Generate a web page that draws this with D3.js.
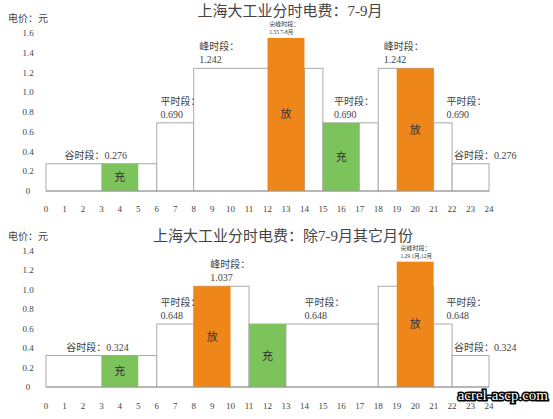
<!DOCTYPE html><html><head><meta charset="utf-8"><script src="https://cdn.jsdelivr.net/npm/d3@7"></script>
<style>body{margin:0;background:#fff}text{font-family:"Liberation Serif","Noto Sans CJK SC",serif}</style></head><body><svg id="c" width="553" height="419"></svg>
<script>
const hours=d3.range(0,25);
// chart 1: 7-9月
const base1=[[0,6,0.276],[6,8,0.690],[8,14,1.242],[14,15,1.242],[15,18,0.690],[18,21,1.242],[21,22,0.690],[22,24,0.276]];
const over1=[[3,5,0.276,"充","#7dc35b"],[12,14,1.55,"放","#ef861a"],[15,17,0.690,"充","#7dc35b"],[19,21,1.242,"放","#ef861a"]];
const lab1=[[1,0.276,"谷时段：0.276",1],[6.2,0.690,"平时段：|0.690",2],[8.3,1.242,"峰时段：|1.242",2],[15.6,0.690,"平时段：|0.690",2],[18.3,1.242,"峰时段：|1.242",2],[21.7,0.690,"平时段：|0.690",2],[22.1,0.276,"谷时段：0.276",1]];
const ticks1=[0,0.2,0.4,0.6,0.8,1.0,1.2,1.4,1.6];
// chart 2: 其它月份
const base2=[[0,6,0.324],[6,8,0.648],[8,11,1.037],[11,13,0.648],[13,18,0.648],[18,21,1.037],[21,22,0.648],[22,24,0.324]];
const over2=[[3,5,0.324,"充","#7dc35b"],[8,10,1.037,"放","#ef861a"],[11,13,0.648,"充","#7dc35b"],[19,21,1.29,"放","#ef861a"]];
const lab2=[[1.1,0.324,"谷时段：0.324",1],[6.2,0.648,"平时段：|0.648",2],[8.9,1.037,"峰时段：|1.037",2],[14,0.648,"平时段：|0.648",2],[21.7,0.648,"平时段：|0.648",2],[22.1,0.324,"谷时段：0.324",1]];
const ticks2=[0,0.2,0.4,0.6,0.8,1.0,1.2,1.4];
const svg=d3.select("#c");
function chart(o){
 const x=d3.scaleLinear().domain([0,24]).range([46,489]);
 const y=d3.scaleLinear().domain([0,o.max]).range([o.y0,o.ytop]);
 const g=svg.append("g");
 g.append("text").attr("x",o.tx).attr("y",o.ty).attr("text-anchor","middle").attr("font-size",15).attr("fill","#444").text(o.title);
 g.append("text").attr("x",8).attr("y",o.uy).attr("font-size",10).attr("fill","#444").text("电价：元");
 o.ticks.forEach(t=>g.append("text").attr("x",28).attr("y",y(t)+3).attr("text-anchor","middle").attr("font-size",9).attr("fill","#444").text(t===0?"0":t.toFixed(1)));
 hours.forEach(h=>g.append("text").attr("x",x(h)).attr("y",o.xl).attr("text-anchor","middle").attr("font-size",9).attr("fill","#444").text(h));
 g.selectAll(".b").data(o.base).join("rect").attr("x",d=>x(d[0])).attr("width",d=>x(d[1])-x(d[0])).attr("y",d=>y(d[2])).attr("height",d=>y(0)-y(d[2])).attr("fill","#fff").attr("stroke","#aaa").attr("stroke-width",1);
 g.selectAll(".o").data(o.over).join("rect").attr("x",d=>x(d[0])).attr("width",d=>x(d[1])-x(d[0])).attr("y",d=>y(d[2])).attr("height",d=>y(0)-y(d[2])).attr("fill",d=>d[4]);
 g.selectAll(".ot").data(o.over).join("text").attr("x",d=>x((d[0]+d[1])/2)).attr("y",d=>(y(d[2])+y(0))/2+4).attr("text-anchor","middle").attr("font-size",11).attr("fill","#333").text(d=>d[3]);
 g.append("line").attr("x1",x(0)).attr("x2",x(24)).attr("y1",y(0)).attr("y2",y(0)).attr("stroke","#999");
 o.labs.forEach(l=>{const p=l[2].split("|");
  if(l[3]===1) g.append("text").attr("x",x(l[0])).attr("y",y(l[1])-5).attr("font-size",10).attr("fill","#444").text(p[0]);
  else{g.append("text").attr("x",x(l[0])).attr("y",y(l[1])-18).attr("font-size",10).attr("fill","#444").text(p[0]);
   g.append("text").attr("x",x(l[0])).attr("y",y(l[1])-5).attr("font-size",10).attr("fill","#444").text(p[1]);}});
 g.append("text").attr("x",x(o.pk[0])).attr("y",y(o.pk[1])-12).attr("font-size",6).attr("fill","#333").text("尖峰时段：");
 g.append("text").attr("x",x(o.pk[0])).attr("y",y(o.pk[1])-4).attr("font-size",5.5).attr("fill","#333").text(o.pk[2]);
}
chart({max:1.6,ticks:ticks1,y0:191,ytop:33,base:base1,over:over1,labs:lab1,title:"上海大工业分时电费：7-9月",tx:290,ty:16,uy:22,xl:212,pk:[12.1,1.55,"1.55   7-8月"]});
chart({max:1.4,ticks:ticks2,y0:387,ytop:251,base:base2,over:over2,labs:lab2,title:"上海大工业分时电费：除7-9月其它月份",tx:283,ty:241,uy:240,xl:409,pk:[19.2,1.29,"1.29  1月,12月"]});
svg.append("text").attr("x",548).attr("y",400).attr("text-anchor","end").attr("font-family","DejaVu Sans").attr("font-size",15)
 .attr("fill","#fff").attr("stroke","#000").attr("stroke-width",3).attr("paint-order","stroke").text("acrel-ascp.com");
</script></body></html>
